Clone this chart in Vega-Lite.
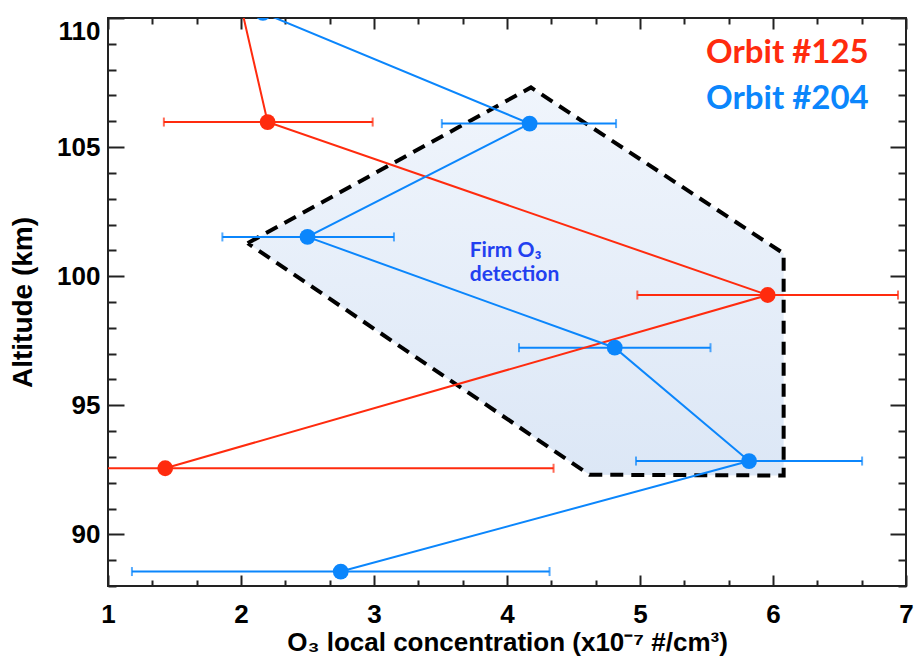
{
  "$schema": "https://vega.github.io/schema/vega-lite/v6.json",
  "width": 798,
  "height": 568,
  "autosize": "none",
  "padding": {"left": 108, "top": 18, "right": 8, "bottom": 70},
  "background": "white",
  "config": {
    "view": {"stroke": "#222222", "strokeWidth": 2},
    "axis": {
      "grid": false,
      "domain": false,
      "tickColor": "#222222",
      "tickWidth": 2,
      "labels": false,
      "title": null,
      "labelFont": "Liberation Sans",
      "labelFontWeight": "bold",
      "labelFontSize": 26,
      "labelColor": "#000000",
      "titleFont": "Liberation Sans",
      "titleFontWeight": "bold",
      "titleFontSize": 26,
      "titleColor": "#000000"
    }
  },
  "datasets": {
    "profiles": [
      {"series": "Orbit #125", "alt": 112.7, "conc": 1.90, "lo": null, "hi": null},
      {"series": "Orbit #125", "alt": 105.97, "conc": 2.20, "lo": 1.42, "hi": 2.99},
      {"series": "Orbit #125", "alt": 99.27, "conc": 5.96, "lo": 4.98, "hi": 6.94},
      {"series": "Orbit #125", "alt": 92.56, "conc": 1.43, "lo": -1.49, "hi": 4.35},
      {"series": "Orbit #204", "alt": 110.2, "conc": 2.165, "lo": null, "hi": null},
      {"series": "Orbit #204", "alt": 105.91, "conc": 4.17, "lo": 3.51, "hi": 4.82},
      {"series": "Orbit #204", "alt": 101.52, "conc": 2.50, "lo": 1.86, "hi": 3.15},
      {"series": "Orbit #204", "alt": 97.23, "conc": 4.81, "lo": 4.09, "hi": 5.53},
      {"series": "Orbit #204", "alt": 92.84, "conc": 5.82, "lo": 4.97, "hi": 6.67},
      {"series": "Orbit #204", "alt": 88.56, "conc": 2.75, "lo": 1.18, "hi": 4.32}
    ],
    "region": [
      {"i": 0, "conc": 2.05, "alt": 101.28},
      {"i": 1, "conc": 4.18, "alt": 107.31},
      {"i": 2, "conc": 6.08, "alt": 100.88},
      {"i": 3, "conc": 6.08, "alt": 92.28},
      {"i": 4, "conc": 4.62, "alt": 92.31},
      {"i": 5, "conc": 2.05, "alt": 101.28}
    ],
    "keys": [
      {"series": "Orbit #125", "conc": 6.72, "alt": 108.25},
      {"series": "Orbit #204", "conc": 6.72, "alt": 106.46}
    ],
    "note": [
      {"label": "Firm O₃\ndetection", "conc": 3.72, "alt": 100.74}
    ]
  },
  "resolve": {"axis": {"x": "independent", "y": "independent"}},
  "layer": [
    {
      "data": {"name": "region"},
      "mark": {
        "type": "line",
        "clip": true,
        "strokeOpacity": 0,
        "fill": {
          "gradient": "linear", "x1": 0, "y1": 0, "x2": 0, "y2": 1,
          "stops": [
            {"offset": 0, "color": "#f0f5fc"},
            {"offset": 1, "color": "#dce7f6"}
          ]
        }
      },
      "encoding": {
        "order": {"field": "i", "type": "quantitative"},
        "x": {
          "field": "conc", "type": "quantitative",
          "scale": {"domain": [1, 7], "nice": false, "zero": false},
          "axis": {
            "orient": "bottom", "values": [1, 2, 3, 4, 5, 6, 7],
            "offset": -11, "tickSize": 11,
            "labels": true, "labelPadding": 15, "labelFlush": false, "labelOverlap": false,
            "title": "O₃ local concentration (x10⁻⁷ #/cm³)", "titlePadding": 2
          }
        },
        "y": {
          "field": "alt", "type": "quantitative",
          "scale": {"domain": [88, 110], "nice": false, "zero": false},
          "axis": {
            "orient": "left", "values": [90, 95, 100, 105, 110],
            "offset": -16, "tickSize": 16,
            "labels": true, "labelPadding": 8, "labelFlush": true, "labelOverlap": false,
            "title": "Altitude (km)", "titleFontSize": 28, "titlePadding": 19
          }
        }
      }
    },
    {
      "data": {"name": "region"},
      "mark": {
        "type": "line", "clip": true, "color": "#000000",
        "strokeWidth": 4, "strokeDash": [13, 8], "strokeJoin": "miter"
      },
      "encoding": {
        "order": {"field": "i", "type": "quantitative"},
        "x": {
          "field": "conc", "type": "quantitative",
          "axis": {
            "orient": "bottom", "offset": -6, "tickSize": 6,
            "values": [1.3333, 1.6667, 2.3333, 2.6667, 3.3333, 3.6667, 4.3333, 4.6667, 5.3333, 5.6667, 6.3333, 6.6667]
          }
        },
        "y": {
          "field": "alt", "type": "quantitative",
          "axis": {
            "orient": "left", "offset": -8, "tickSize": 8,
            "values": [88, 89, 91, 92, 93, 94, 96, 97, 98, 99, 101, 102, 103, 104, 106, 107, 108, 109]
          }
        }
      }
    },
    {
      "data": {"name": "profiles"},
      "mark": {"type": "rule", "clip": true, "strokeWidth": 2},
      "encoding": {
        "x": {
          "field": "lo", "type": "quantitative",
          "axis": {"orient": "top", "values": [1, 2, 3, 4, 5, 6, 7], "offset": -11, "tickSize": 11}
        },
        "x2": {"field": "hi"},
        "y": {
          "field": "alt", "type": "quantitative",
          "axis": {"orient": "right", "values": [90, 95, 100, 105, 110], "offset": -16, "tickSize": 16}
        },
        "color": {
          "field": "series", "type": "nominal", "legend": null,
          "scale": {"domain": ["Orbit #125", "Orbit #204"], "range": ["#ff2b0e", "#0b86fc"]}
        }
      }
    },
    {
      "data": {"name": "profiles"},
      "mark": {"type": "tick", "clip": true, "orient": "vertical", "size": 9, "thickness": 2},
      "encoding": {
        "x": {
          "field": "lo", "type": "quantitative",
          "axis": {
            "orient": "top", "offset": -6, "tickSize": 6,
            "values": [1.3333, 1.6667, 2.3333, 2.6667, 3.3333, 3.6667, 4.3333, 4.6667, 5.3333, 5.6667, 6.3333, 6.6667]
          }
        },
        "y": {
          "field": "alt", "type": "quantitative",
          "axis": {
            "orient": "right", "offset": -8, "tickSize": 8,
            "values": [88, 89, 91, 92, 93, 94, 96, 97, 98, 99, 101, 102, 103, 104, 106, 107, 108, 109]
          }
        },
        "color": {"field": "series", "type": "nominal", "legend": null}
      }
    },
    {
      "data": {"name": "profiles"},
      "mark": {"type": "tick", "clip": true, "orient": "vertical", "size": 9, "thickness": 2},
      "encoding": {
        "x": {"field": "hi", "type": "quantitative", "axis": null},
        "y": {"field": "alt", "type": "quantitative", "axis": null},
        "color": {"field": "series", "type": "nominal", "legend": null}
      }
    },
    {
      "data": {"name": "profiles"},
      "mark": {"type": "line", "clip": true, "strokeWidth": 2},
      "encoding": {
        "order": {"field": "alt", "type": "quantitative"},
        "x": {"field": "conc", "type": "quantitative", "axis": null},
        "y": {"field": "alt", "type": "quantitative", "axis": null},
        "color": {"field": "series", "type": "nominal", "legend": null}
      }
    },
    {
      "data": {"name": "profiles"},
      "mark": {"type": "circle", "clip": true, "size": 250, "opacity": 1},
      "encoding": {
        "x": {"field": "conc", "type": "quantitative", "axis": null},
        "y": {"field": "alt", "type": "quantitative", "axis": null},
        "color": {"field": "series", "type": "nominal", "legend": null}
      }
    },
    {
      "data": {"name": "keys"},
      "mark": {"type": "text", "font": "Lato", "fontWeight": "bold", "fontSize": 33, "align": "right", "baseline": "alphabetic"},
      "encoding": {
        "x": {"field": "conc", "type": "quantitative", "axis": null},
        "y": {"field": "alt", "type": "quantitative", "axis": null},
        "text": {"field": "series"},
        "color": {"field": "series", "type": "nominal", "legend": null}
      }
    },
    {
      "data": {"name": "note"},
      "mark": {
        "type": "text", "font": "Lato", "fontWeight": "bold", "fontSize": 21,
        "align": "left", "baseline": "alphabetic", "lineBreak": "\n", "lineHeight": 24,
        "color": "#2240f0"
      },
      "encoding": {
        "x": {"field": "conc", "type": "quantitative", "axis": null},
        "y": {"field": "alt", "type": "quantitative", "axis": null},
        "text": {"field": "label"}
      }
    }
  ]
}
